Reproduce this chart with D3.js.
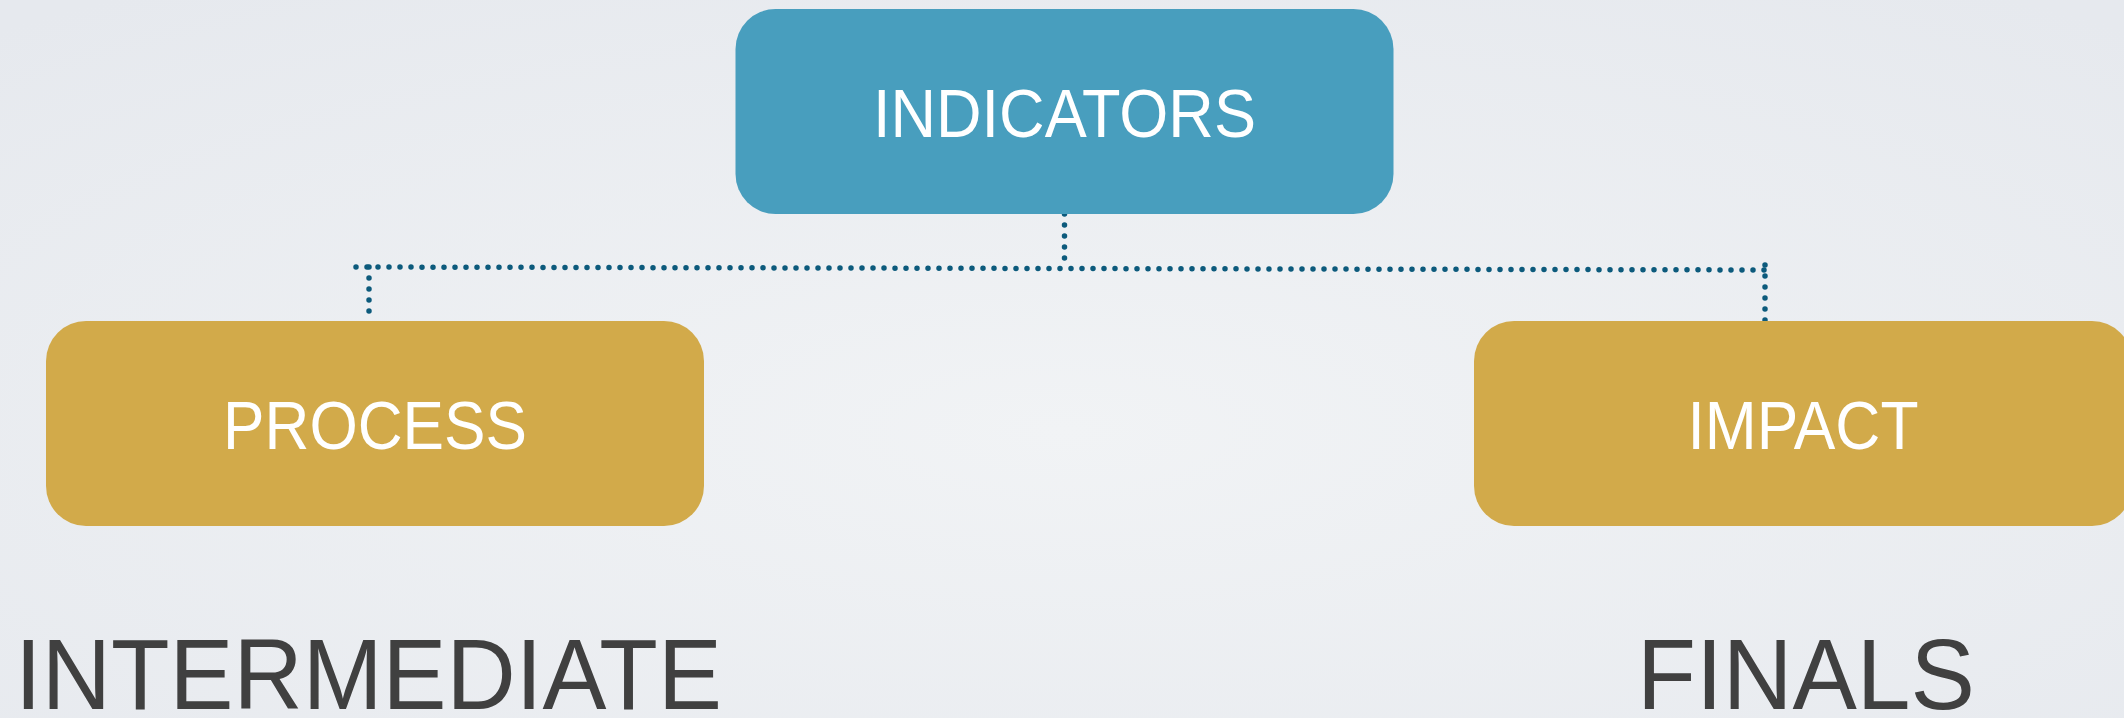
<!DOCTYPE html>
<html>
<head>
<meta charset="utf-8">
<script src="https://cdn.jsdelivr.net/npm/d3@7"></script>
<style>
  html, body { margin: 0; padding: 0; overflow: hidden; }
  svg { display: block; }
  text { font-family: "Liberation Sans", Arial, sans-serif; }
</style>
</head>
<body>
<div id="chart"></div>
<script>
// diagram content
const boxLabels = ["INDICATORS", "PROCESS", "IMPACT"];
const boxLevels = [0, 1, 1];          // 0 = top row, 1 = second row
const boxKinds = ["root", "child", "child"];
const groupLabels = ["INTERMEDIATE", "FINALS"];

const width = 2124, height = 718;
const boxW = 658, boxH = 205, radius = 40;

const svg = d3.select("#chart")
    .append("svg")
    .attr("width", width)
    .attr("height", height);

// background
const defs = svg.append("defs");
const grad = defs.append("radialGradient")
    .attr("id", "bg")
    .attr("cx", "50%").attr("cy", "60%").attr("r", "75%");
grad.append("stop").attr("offset", "0%").attr("stop-color", "#f1f3f5");
grad.append("stop").attr("offset", "100%").attr("stop-color", "#e6e9ee");
svg.append("rect")
    .attr("width", width)
    .attr("height", height)
    .attr("fill", "url(#bg)");

// position scales for the boxes
const x = d3.scaleOrdinal()
    .domain(boxLabels)
    .range([1064.5, 375, 1803]);
const y = d3.scaleOrdinal()
    .domain([0, 1])
    .range([9, 321]);
const color = d3.scaleOrdinal()
    .domain(["root", "child"])
    .range(["#489ebe", "#d2aa4a"]);

const nodes = boxLabels.map((d, i) => ({ label: d, level: boxLevels[i], kind: boxKinds[i] }));

// squeeze a text horizontally to a given width, keeping its anchor point
function fitWidth(sel, target, anchorX, baseY) {
    sel.each(function(d, i) {
        const w = this.getComputedTextLength();
        const s = target(d, i) / w;
        d3.select(this)
            .attr("x", 0).attr("y", 0)
            .attr("transform", `translate(${anchorX(d, i)},${baseY(d, i)}) scale(${s},1)`);
    });
}

// dotted connectors
const dotted = svg.append("g")
    .attr("fill", "none")
    .attr("stroke", "#0c5a7c")
    .attr("stroke-width", 5.5)
    .attr("stroke-linecap", "round")
    .attr("stroke-dasharray", "0 11");

const busY = 267;
const root = nodes[0];
dotted.append("line")
    .attr("x1", x(root.label)).attr("y1", y(root.level) + boxH)
    .attr("x2", x(root.label)).attr("y2", busY + 1);
dotted.append("line")
    .attr("x1", x("PROCESS") - 19).attr("y1", busY)
    .attr("x2", x("IMPACT") - 35).attr("y2", busY + 3);
dotted.selectAll("line.drop")
    .data(nodes.filter(d => d.level === 1))
    .enter()
    .append("line")
    .attr("class", "drop")
    .attr("x1", d => d.label === "PROCESS" ? x(d.label) - 6 : x(d.label) - 38)
    .attr("y1", d => d.label === "PROCESS" ? busY : busY - 2)
    .attr("x2", d => d.label === "PROCESS" ? x(d.label) - 6 : x(d.label) - 38)
    .attr("y2", d => y(d.level));

// boxes
const box = svg.append("g")
    .selectAll("g")
    .data(nodes)
    .enter()
    .append("g")
    .attr("transform", d => `translate(${x(d.label) - boxW / 2},${y(d.level)})`);

box.append("rect")
    .attr("width", boxW)
    .attr("height", boxH)
    .attr("rx", radius)
    .attr("ry", radius)
    .attr("fill", d => color(d.kind));

const textWidths = { INDICATORS: 383, PROCESS: 304, IMPACT: 231 };
box.append("text")
    .attr("text-anchor", "middle")
    .attr("fill", "#ffffff")
    .attr("font-size", 68)
    .text(d => d.label)
    .call(fitWidth, d => textWidths[d.label], () => boxW / 2, () => boxH / 2 + 25);

// group captions under the second row
const captionWidths = [693, 324];
const captionX = [22, 1644];
svg.append("g")
    .selectAll("text")
    .data(groupLabels)
    .enter()
    .append("text")
    .attr("fill", "#404040")
    .attr("font-size", 100)
    .text(d => d)
    .call(fitWidth, (d, i) => captionWidths[i] + 14, (d, i) => captionX[i] - 7, () => 709);
</script>
</body>
</html>
